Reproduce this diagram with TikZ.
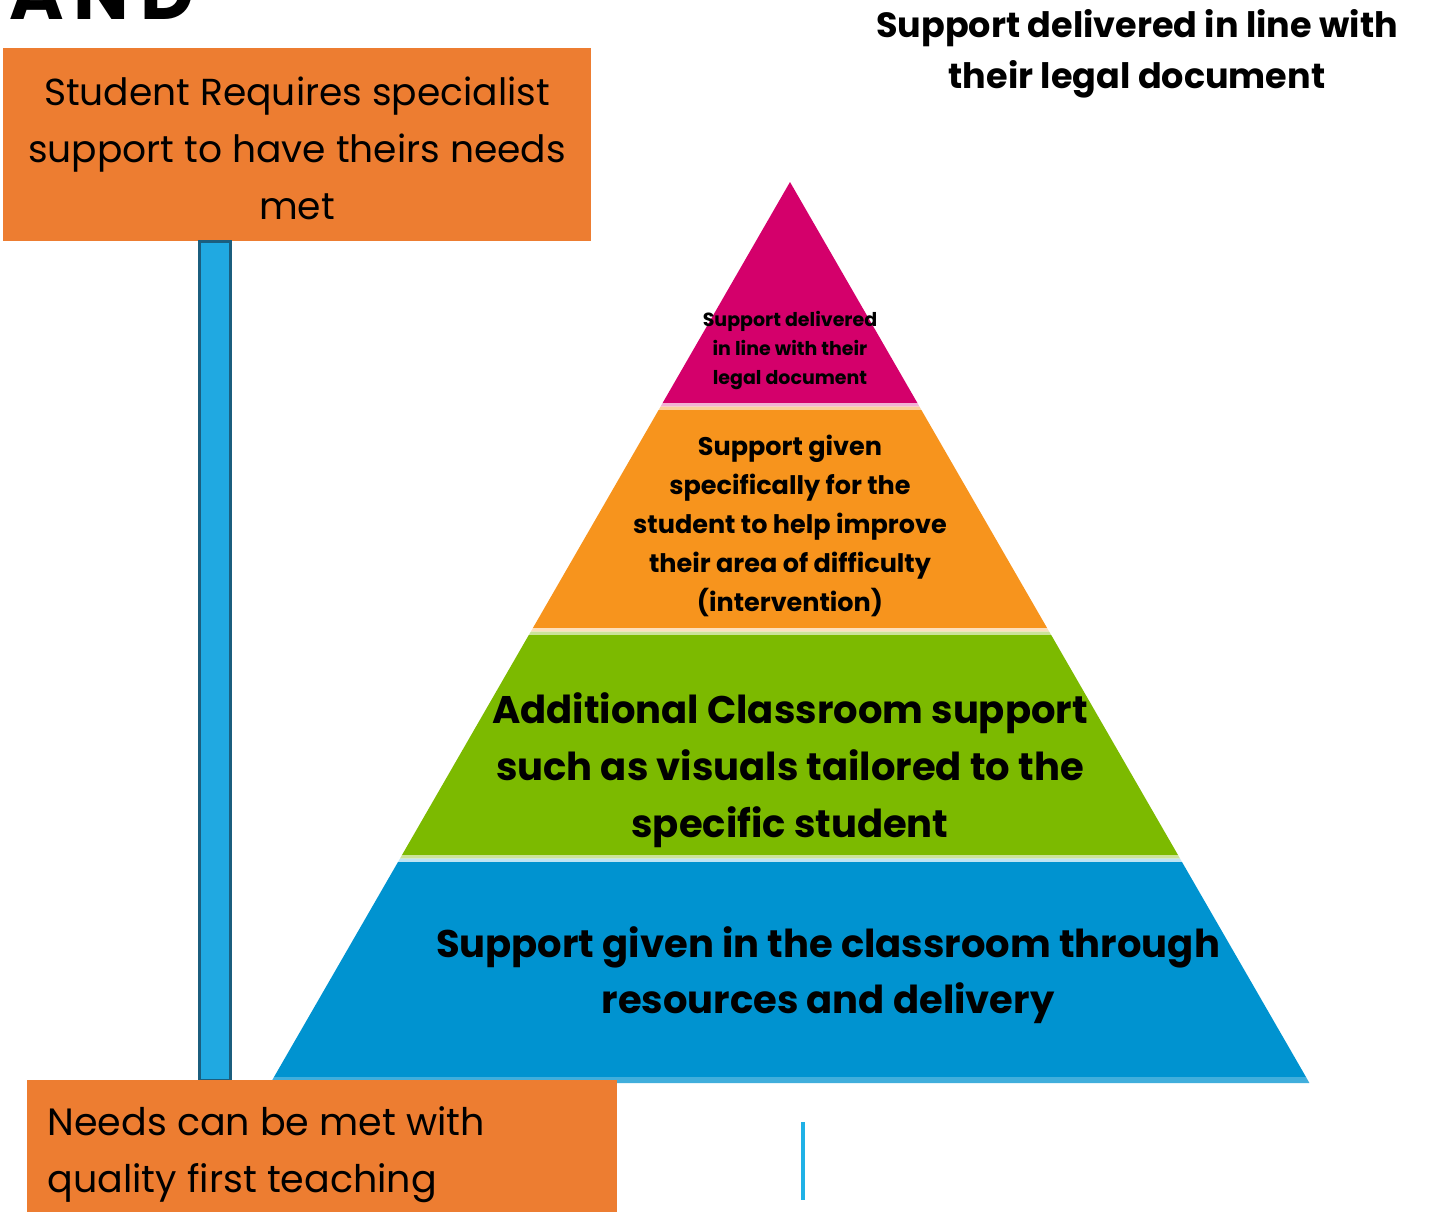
\documentclass[tikz,border=0pt]{standalone}
\usepackage{fontspec}
\setmainfont{Poppins}
\definecolor{boxorange}{HTML}{ED7D31}
\definecolor{barblue}{HTML}{20A9E1}
\definecolor{bardark}{HTML}{1B5E7E}
\definecolor{lpink}{HTML}{D4006B}
\definecolor{lorange}{HTML}{F7941D}
\definecolor{lgreen}{HTML}{7CBA00}
\definecolor{lblue}{HTML}{0093D0}
\definecolor{lineblue}{HTML}{1FB1E6}
\tikzset{
  obox/.style={fill=boxorange, inner sep=0pt},
  ptext/.style={align=center, font=\bfseries, text=black},
}
\begin{document}
\begin{tikzpicture}[x=1pt,y=-1pt]
\useasboundingbox (0,0) rectangle (1430,1211);
% partial heading
\node[anchor=base east, font=\fontsize{74}{74}\selectfont\bfseries\addfontfeature{LetterSpace=14}, inner sep=0pt] (head) at (194,19) {LAND};
% pyramid layers
\fill[lpink] (790,182) -- (917.4,403) -- (662.6,403) -- cycle;
\fill[lpink!30] (662.6,403) -- (917.4,403) -- (919.4,406.5) -- (660.6,406.5) -- cycle;
\fill[lorange!45] (660.6,406.5) -- (919.4,406.5) -- (921.4,410) -- (658.6,410) -- cycle;
\fill[lorange] (658.6,410) -- (921.4,410) -- (1047.1,628) -- (532.9,628) -- cycle;
\fill[lorange!30] (532.9,628) -- (1047.1,628) -- (1049.1,631.5) -- (530.9,631.5) -- cycle;
\fill[lgreen!40] (530.9,631.5) -- (1049.1,631.5) -- (1051.2,635) -- (528.8,635) -- cycle;
\fill[lgreen] (528.8,635) -- (1051.2,635) -- (1178,855) -- (402,855) -- cycle;
\fill[lgreen!40] (402,855) -- (1178,855) -- (1180,858.5) -- (400,858.5) -- cycle;
\fill[lblue!25] (400,858.5) -- (1180,858.5) -- (1182,862) -- (398,862) -- cycle;
\fill[lblue] (398,862) -- (1182,862) -- (1306,1077) -- (274,1077) -- cycle;
\fill[lblue!75] (274,1077) -- (1306,1077) -- (1309.4,1083) -- (270.6,1083) -- cycle;
% pyramid texts
\node[ptext, font=\fontsize{19}{29}\selectfont\bfseries] (t1) at (790,350) {Support delivered\\in line with their\\legal document};
\node[ptext, font=\fontsize{25.5}{39}\selectfont\bfseries] (t2) at (790,526) {Support given\\specifically for the\\student to help improve\\their area of difficulty\\(intervention)};
\node[ptext, font=\fontsize{38.5}{57}\selectfont\bfseries] (t3) at (790,770) {Additional Classroom support\\such as visuals tailored to the\\specific student};
\node[ptext, font=\fontsize{38.5}{56}\selectfont\bfseries] (t4) at (828,975) {Support given in the classroom through\\resources and delivery};
% top right text
\node[ptext, font=\fontsize{35}{51}\selectfont\bfseries] (tr) at (1137,54) {Support delivered in line with\\their legal document};
% orange boxes
\node[obox, minimum width=588, minimum height=193] (top) at (297,144.5) {};
\node[align=center, font=\fontsize{37.6}{57}\selectfont] (toptext) at (297,148) {Student Requires specialist\\support to have theirs needs\\met};
% bar connecting boxes
\coordinate (bartop) at ([xshift=196.5pt]top.south west);
\node[obox, minimum width=590, minimum height=140, anchor=north west] (bot) at (27,1080) {};
\draw[fill=barblue, draw=bardark, line width=3pt] (bartop) rectangle ([xshift=227.5pt]bot.north west -| top.south west);
\node[obox, minimum width=590, minimum height=140, anchor=north west] (bot2) at (27,1080) {};
\node[anchor=west, align=left, font=\fontsize{38}{57}\selectfont] (bottext) at (44,1155) {Needs can be met with\\quality first teaching};
% blue short line
\coordinate (l1) at (803,1122);
\coordinate (l2) at (803,1200);
\draw[lineblue, line width=4pt] (l1) -- (l2);
\end{tikzpicture}
\end{document}
